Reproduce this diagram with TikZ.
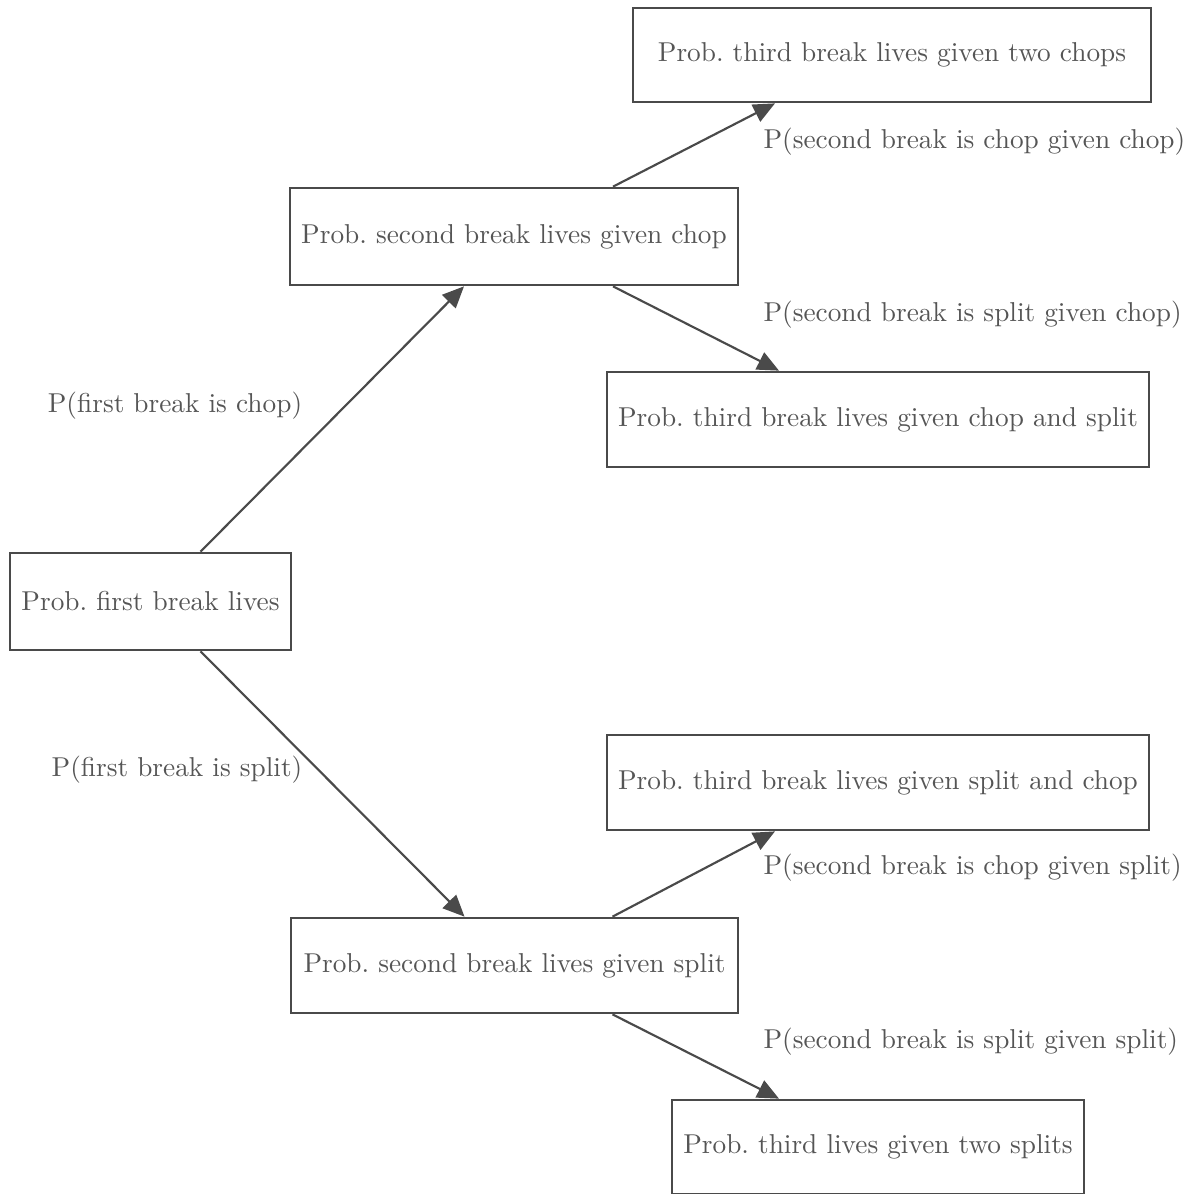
\documentclass[tikz,border=0pt]{standalone}
\usetikzlibrary{arrows.meta,calc}
\definecolor{ln}{HTML}{4A4A4A}
\definecolor{tx}{HTML}{555555}
\begin{document}
\begin{tikzpicture}[x=0.3717pt,y=-0.3717pt,
  box/.style={draw=ln,line width=1pt,inner sep=0pt,text=tx,font=\fontsize{10.15}{12}\selectfont},
  lab/.style={text=tx,inner sep=0pt,font=\fontsize{10.15}{12}\selectfont},
  edge/.style={draw=ln,line width=0.8pt,-{Triangle[length=8pt,width=7pt]}}]
\useasboundingbox (0,0) rectangle (1187,1194);
\node[box,minimum width=281*0.3717pt,minimum height=97*0.3717pt] (A) at (150.5,601.5) {Prob.\ first break lives};
\node[box,minimum width=448*0.3717pt,minimum height=97*0.3717pt] (B) at (514,236.5) {Prob.\ second break lives given chop};
\node[box,minimum width=518*0.3717pt,minimum height=94*0.3717pt] (C) at (892,55) {Prob.\ third break lives given two chops};
\node[box,minimum width=542*0.3717pt,minimum height=95*0.3717pt] (D) at (878,419.5) {Prob.\ third break lives given chop and split};
\node[box,minimum width=542*0.3717pt,minimum height=95*0.3717pt] (E) at (878,782.5) {Prob.\ third break lives given split and chop};
\node[box,minimum width=447*0.3717pt,minimum height=95*0.3717pt] (F) at (514.5,965.5) {Prob.\ second break lives given split};
\node[box,minimum width=412*0.3717pt,minimum height=94*0.3717pt] (G) at (878,1147) {Prob.\ third lives given two splits};
\draw[edge] ($(A.north)+(50,0)$) -- ($(B.south)+(-50,0)$);
\draw[edge] ($(A.south)+(50,0)$) -- ($(F.north)+(-50,0)$);
\draw[edge] ($(B.north)+(99,0)$) -- ($(C.south)+(-117,0)$);
\draw[edge] ($(B.south)+(99,0)$) -- ($(D.north)+(-99,0)$);
\draw[edge] ($(F.north)+(98,0)$) -- ($(E.south)+(-103,0)$);
\draw[edge] ($(F.south)+(98,0)$) -- ($(G.north)+(-99,0)$);
\node[lab] (l1) at (175,406) {P(first break is chop)};
\node[lab] (l2) at (177,770) {P(first break is split)};
\node[lab,anchor=west] (l3) at (763,142) {P(second break is chop given chop)};
\node[lab,anchor=west] (l4) at (763,315) {P(second break is split given chop)};
\node[lab,anchor=west] (l5) at (763,868) {P(second break is chop given split)};
\node[lab,anchor=west] (l6) at (763,1042) {P(second break is split given split)};
\end{tikzpicture}
\end{document}
